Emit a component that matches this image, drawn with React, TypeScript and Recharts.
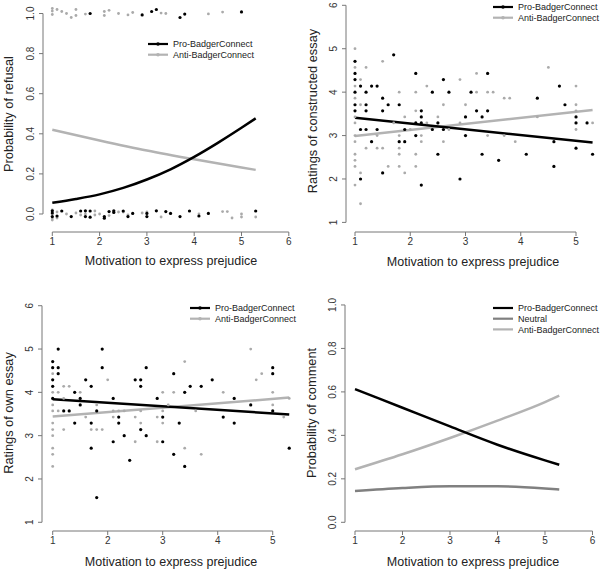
import {
  ComposedChart,
  XAxis,
  YAxis,
  Scatter,
  Line,
  ReferenceLine,
  Legend,
} from "recharts";

const FONT = '"Liberation Sans", Arial, Helvetica, sans-serif';
const AXIS = "#777777";
const PRO_COLOR = "#000000";
const ANTI_COLOR = "#b3b3b3";
const NEUTRAL_COLOR = "#808080";
const ANTI_DOT = "#aaaaaa";

const PRO = "Pro-BadgerConnect";
const ANTI = "Anti-BadgerConnect";
const NEUTRAL = "Neutral";

/*
  PANEL 1 - refusal (jittered 0/1 outcomes + fitted curves)
*/

const refusalTicksX = [1, 2, 3, 4, 5, 6];
const refusalTicksY = [0, 0.2, 0.4, 0.6, 0.8, 1.0];

const refusalPro = [
  [1.8, 1.0], [2.9, 0.993], [3.1, 1.01], [3.2, 1.02], [3.7, 0.98], [3.8, 0.997], [5.0, 1.008],
  [1.0, 0.016], [1.0, -0.013], [1.0, 0.005], [1.1, -0.01], [1.2, 0.015], [1.4, -0.013],
  [1.6, 0.015], [1.7, 0.016], [1.7, -0.013], [1.8, 0.015], [1.8, -0.016], [2.1, -0.013],
  [2.1, -0.021], [2.2, 0.012], [2.3, 0.016], [2.3, 0.008], [2.5, 0.015], [2.6, -0.013],
  [2.7, 0.003], [3.0, -0.013], [3.0, 0.003], [3.2, 0.016], [3.4, 0.012], [3.5, 0.003],
  [3.7, -0.013], [3.9, 0.015], [4.1, -0.01], [4.3, 0.003], [5.3, 0.015],
];

const refusalAnti = [
  [1.0, 1.025], [1.0, 1.012], [1.0, 0.995], [1.1, 1.02], [1.2, 1.01], [1.3, 1.0], [1.4, 0.98],
  [1.5, 1.02], [1.5, 0.99], [1.7, 0.997], [2.1, 1.01], [2.1, 0.99], [2.2, 1.016], [2.4, 1.0],
  [2.6, 0.993], [2.7, 1.005], [3.3, 1.002], [3.4, 1.0], [4.3, 0.998], [4.6, 1.007],
  [1.0, 0.02], [1.0, 0.0], [1.0, -0.02], [1.0, -0.03], [1.1, 0.01], [1.1, -0.02], [1.3, 0.0],
  [1.5, 0.005], [1.6, -0.005], [1.7, 0.0], [1.9, 0.015], [1.9, -0.005], [2.0, 0.0],
  [2.2, -0.008], [2.4, 0.01], [2.5, 0.01], [2.6, -0.005], [2.9, 0.005], [3.0, 0.01],
  [3.3, -0.015], [4.1, 0.0], [4.6, 0.012], [4.7, 0.012], [4.8, -0.02], [5.0, 0.0],
  [5.0, -0.015], [5.3, -0.015],
];

const refusalProFit = [
  [1, 0.056], [1.5, 0.075], [2, 0.098], [2.5, 0.13], [3, 0.172], [3.5, 0.223],
  [4, 0.285], [4.5, 0.355], [5, 0.43], [5.3, 0.477],
];
const refusalAntiFit = [
  [1, 0.42], [2, 0.367], [3, 0.317], [4, 0.273], [5, 0.232], [5.3, 0.22],
];

/*
  PANEL 2 - ratings of constructed essay
*/

const ratingTicksX = [1, 2, 3, 4, 5];
const ratingTicksY = [1, 2, 3, 4, 5, 6];

const constructedPro = [
  [1, 4.71], [1, 4.43], [1, 4.29], [1, 4.0], [1, 3.71], [1, 3.57],
  [1.1, 4.14], [1.1, 3.14], [1.1, 2.0],
  [1.2, 4.0], [1.2, 3.71], [1.2, 3.57], [1.2, 3.14],
  [1.3, 4.14], [1.3, 2.86], [1.4, 4.14], [1.4, 3.14],
  [1.5, 3.86], [1.5, 3.57], [1.5, 2.14], [1.6, 3.71], [1.7, 4.86],
  [1.8, 3.71], [1.8, 2.86], [1.9, 3.14], [1.9, 2.86],
  [2.1, 4.43], [2.1, 3.29], [2.1, 3.0],
  [2.2, 3.57], [2.2, 3.43], [2.2, 3.29], [2.2, 1.86],
  [2.4, 4.0], [2.4, 3.14], [2.5, 3.29], [2.5, 2.57], [2.6, 4.29], [2.6, 3.14],
  [2.7, 4.0], [2.9, 2.0], [3.0, 3.43], [3.0, 3.0], [3.1, 4.0], [3.2, 3.57],
  [3.3, 3.43], [3.3, 2.57], [3.4, 4.43], [3.4, 3.57], [3.6, 2.43],
  [4.1, 2.57], [4.3, 3.86], [4.6, 2.86], [4.6, 2.29], [4.7, 4.14], [4.8, 3.71],
  [5.0, 3.43], [5.0, 3.29], [5.0, 2.71], [5.2, 3.29], [5.3, 2.57],
];

const constructedAnti = [
  [1, 5.0], [1, 4.57], [1, 4.14], [1, 3.86], [1, 3.43], [1, 3.29], [1, 3.0],
  [1, 2.86], [1, 2.57], [1, 2.43], [1, 2.29], [1, 1.86],
  [1.1, 4.29], [1.1, 3.71], [1.1, 2.14], [1.1, 1.43],
  [1.2, 4.57], [1.2, 2.71], [1.4, 3.0], [1.4, 2.71], [1.5, 4.71], [1.5, 2.71],
  [1.6, 2.29], [1.7, 3.29],
  [1.8, 4.0], [1.8, 3.0], [1.8, 2.71], [1.8, 2.57], [1.8, 2.29],
  [1.9, 3.43], [1.9, 2.14], [2.0, 3.14],
  [2.1, 4.0], [2.1, 3.57], [2.1, 2.57], [2.1, 2.29],
  [2.2, 3.0], [2.2, 2.86], [2.3, 4.14], [2.3, 3.29], [2.5, 3.43],
  [2.6, 3.71], [2.6, 2.86], [2.7, 3.14], [2.9, 4.29], [2.9, 3.29], [3.0, 3.71],
  [3.2, 4.43], [3.2, 4.0], [3.4, 4.0], [3.4, 3.0], [3.5, 4.0],
  [3.7, 3.86], [3.7, 3.0], [3.8, 3.86], [3.9, 2.86], [4.3, 3.43], [4.5, 4.57],
  [5.0, 4.14], [5.0, 3.71], [5.0, 3.57], [5.0, 3.14], [5.3, 3.29],
];

const constructedProFit = [[1, 3.41], [5.3, 2.84]];
const constructedAntiFit = [[1, 2.99], [5.3, 3.59]];

/*
  PANEL 3 - ratings of own essay
*/

const ownPro = [
  [1, 4.71], [1, 4.57], [1, 4.29], [1, 4.14], [1, 3.86],
  [1.1, 5.0], [1.1, 4.57], [1.1, 4.43], [1.2, 3.57], [1.3, 3.57],
  [1.4, 4.0], [1.4, 3.29], [1.5, 3.86], [1.5, 3.71], [1.6, 4.29],
  [1.7, 4.14], [1.7, 3.29], [1.7, 2.71], [1.8, 3.57], [1.8, 1.57],
  [1.9, 5.0], [1.9, 4.57], [2.1, 3.86], [2.1, 2.86], [2.2, 3.43], [2.2, 3.29],
  [2.3, 3.0], [2.4, 2.43], [2.5, 4.29], [2.6, 4.29], [2.6, 4.14], [2.6, 3.14],
  [2.7, 4.57], [2.7, 3.0], [2.9, 3.86], [3.0, 3.43], [3.0, 2.86],
  [3.2, 4.43], [3.2, 2.57], [3.3, 3.29], [3.4, 4.0], [3.4, 2.29], [3.5, 4.14],
  [3.7, 4.14], [3.9, 4.29], [4.1, 3.43], [4.3, 3.86], [4.3, 3.29], [4.6, 3.71],
  [5.0, 4.57], [5.0, 4.43], [5.0, 3.57], [5.3, 2.71],
];

const ownAnti = [
  [1, 4.43], [1, 4.0], [1, 3.71], [1, 3.57], [1, 3.29], [1, 3.14], [1, 3.0],
  [1, 2.71], [1, 2.57], [1, 2.29], [1.1, 4.0], [1.1, 3.57],
  [1.2, 4.14], [1.2, 3.86], [1.2, 3.14], [1.3, 4.14], [1.5, 4.0], [1.6, 3.43],
  [1.7, 3.14], [1.8, 3.71], [1.8, 3.14], [1.9, 3.14], [2.0, 4.29],
  [2.1, 3.57], [2.1, 3.43], [2.2, 3.57], [2.3, 3.57], [2.5, 3.43], [2.5, 2.86],
  [2.6, 3.57], [2.6, 3.29], [2.9, 3.43], [2.9, 2.86], [3.0, 4.0], [3.0, 3.57],
  [3.0, 3.29], [3.1, 3.71], [3.2, 4.0], [3.4, 4.71], [3.4, 2.71], [3.6, 3.57],
  [3.7, 2.57], [4.1, 4.0], [4.6, 5.0], [4.7, 4.29], [4.8, 4.43],
  [5.0, 4.0], [5.0, 3.71], [5.2, 3.43], [5.3, 3.86],
];

const ownProFit = [[1, 3.84], [5.3, 3.49]];
const ownAntiFit = [[1, 3.44], [5.3, 3.88]];

/*
  PANEL 4 - probability of comment
*/

const commentTicksX = [1, 2, 3, 4, 5, 6];
const commentTicksY = [0, 0.2, 0.4, 0.6, 0.8, 1.0];

const commentProFit = [[1, 0.613], [2, 0.527], [3, 0.441], [4, 0.357], [5, 0.285], [5.3, 0.265]];
const commentNeutralFit = [[1, 0.144], [2, 0.158], [3, 0.166], [4, 0.166], [5, 0.156], [5.3, 0.151]];
const commentAntiFit = [[1, 0.244], [2, 0.313], [3, 0.388], [4, 0.468], [5, 0.553], [5.3, 0.583]];

type Pt = { x: number; y: number };
const toXY = (pts: number[][]): Pt[] => pts.map(([x, y]) => ({ x, y }));

interface Fit {
  name: string;
  color: string;
  data: number[][];
}

interface PanelProps {
  left: number;
  top: number;
  width: number;
  height: number;
  rightMargin: number;
  yAxisWidth: number;
  xAxisHeight: number;
  xDomain: [number, number];
  yDomain: [number, number];
  xTicks: number[];
  yTicks: number[];
  digits: number;
  proPoints?: number[][];
  antiPoints?: number[][];
  fits: Fit[];
  legendOrder: string[];
  legendLeft: number;
  legendTop: number;
  legendDots: boolean;
}

const RotTick = (props: any) => {
  const { x, y, payload, digits } = props;
  const cx = x - 6.5;
  return (
    <text
      x={cx}
      y={y}
      transform={`rotate(-90 ${cx} ${y})`}
      textAnchor="middle"
      dy="0.35em"
      fontSize={10}
      fill="#333"
      fontFamily={FONT}
    >
      {Number(payload.value).toFixed(digits)}
    </text>
  );
};

const LegendBox = ({ payload, order, dots }: any) => {
  const items = [...(payload || [])]
    .filter((it: any) => order.includes(it.value))
    .sort((a: any, b: any) => order.indexOf(a.value) - order.indexOf(b.value));

  return (
    <svg width={120} height={items.length * 10.7 + 2} style={{ display: "block", overflow: "visible" }}>
      {items.map((it: any, i: number) => {
        const yc = 5 + i * 10.7;
        return (
          <g key={it.value}>
            <line x1={0} x2={20} y1={yc} y2={yc} stroke={it.color} strokeWidth={2.2} />
            {dots && <circle cx={10} cy={yc} r={1.8} fill={it.color} />}
            <text x={25} y={yc} dy="0.35em" fontSize={9} fontFamily={FONT} fill="#222">
              {it.value}
            </text>
          </g>
        );
      })}
    </svg>
  );
};

const dotShape = (color: string, r: number) => (p: any) =>
  <circle cx={p.cx} cy={p.cy} r={r} fill={color} />;

const Panel = (p: PanelProps) => {
  const x0 = p.xTicks[0];
  const x1 = p.xTicks[p.xTicks.length - 1];
  const y0 = p.yTicks[0];
  const y1 = p.yTicks[p.yTicks.length - 1];

  return (
    <div style={{ position: "absolute", left: p.left, top: p.top }}>
      <ComposedChart
        width={p.width}
        height={p.height}
        margin={{ top: 3, right: p.rightMargin, bottom: 0, left: 0 }}
      >
        <XAxis
          type="number"
          dataKey="x"
          domain={p.xDomain}
          ticks={p.xTicks}
          interval={0}
          allowDataOverflow
          axisLine={false}
          tickLine={{ stroke: AXIS }}
          tickSize={4}
          tickMargin={2}
          height={p.xAxisHeight}
          tick={{ fontSize: 10, fill: "#333", fontFamily: FONT }}
        />
        <YAxis
          type="number"
          dataKey="y"
          domain={p.yDomain}
          ticks={p.yTicks}
          interval={0}
          allowDataOverflow
          axisLine={false}
          tickLine={{ stroke: AXIS }}
          tickSize={4}
          tickMargin={2}
          width={p.yAxisWidth}
          tick={<RotTick digits={p.digits} />}
        />

        {/* R-style axis lines, spanning first to last tick */}
        <ReferenceLine
          segment={[{ x: x0, y: p.yDomain[0] }, { x: x1, y: p.yDomain[0] }]}
          stroke={AXIS}
          ifOverflow="visible"
        />
        <ReferenceLine
          segment={[{ x: p.xDomain[0], y: y0 }, { x: p.xDomain[0], y: y1 }]}
          stroke={AXIS}
          ifOverflow="visible"
        />

        {p.antiPoints && (
          <Scatter
            data={toXY(p.antiPoints)}
            dataKey="y"
            legendType="none"
            isAnimationActive={false}
            shape={dotShape(ANTI_DOT, 1.4)}
          />
        )}
        {p.proPoints && (
          <Scatter
            data={toXY(p.proPoints)}
            dataKey="y"
            legendType="none"
            isAnimationActive={false}
            shape={dotShape(PRO_COLOR, 1.6)}
          />
        )}

        {p.fits.map((f) => (
          <Line
            key={f.name}
            name={f.name}
            data={toXY(f.data)}
            dataKey="y"
            type="monotone"
            stroke={f.color}
            strokeWidth={2.5}
            dot={false}
            activeDot={false}
            isAnimationActive={false}
          />
        ))}

        <Legend
          layout="vertical"
          align="center"
          verticalAlign="middle"
          wrapperStyle={{ left: p.legendLeft, top: p.legendTop, width: 120 }}
          content={(lp: any) => (
            <LegendBox payload={lp.payload} order={p.legendOrder} dots={p.legendDots} />
          )}
        />
      </ComposedChart>
    </div>
  );
};

const titleBase: React.CSSProperties = {
  position: "absolute",
  fontFamily: FONT,
  color: "#222",
  whiteSpace: "nowrap",
  lineHeight: 1,
};

const XTitle = ({ x, y, text }: { x: number; y: number; text: string }) => (
  <div style={{ ...titleBase, left: x, top: y, fontSize: 12.5, transform: "translate(-50%, -50%)" }}>
    {text}
  </div>
);

const YTitle = ({ x, y, text }: { x: number; y: number; text: string }) => (
  <div
    style={{
      ...titleBase,
      left: x,
      top: y,
      fontSize: 12.8,
      transform: "translate(-50%, -50%) rotate(-90deg)",
    }}
  >
    {text}
  </div>
);

const X_TITLE = "Motivation to express prejudice";

export default function App() {
  return (
    <div
      style={{
        position: "absolute",
        left: 0,
        top: 0,
        width: 600,
        height: 571,
        background: "#ffffff",
        overflow: "hidden",
      }}
    >
      {/* TOP LEFT */}
      <Panel
        left={0}
        top={0}
        width={300}
        height={285}
        rightMargin={5}
        yAxisWidth={43}
        xAxisHeight={53}
        xDomain={[0.8034, 6.131]}
        yDomain={[-0.0898, 1.0524]}
        xTicks={refusalTicksX}
        yTicks={refusalTicksY}
        digits={1}
        proPoints={refusalPro}
        antiPoints={refusalAnti}
        fits={[
          { name: ANTI, color: ANTI_COLOR, data: refusalAntiFit },
          { name: PRO, color: PRO_COLOR, data: refusalProFit },
        ]}
        legendOrder={[PRO, ANTI]}
        legendLeft={148}
        legendTop={39}
        legendDots
      />

      {/* TOP RIGHT */}
      <Panel
        left={300}
        top={0}
        width={300}
        height={285}
        rightMargin={2}
        yAxisWidth={46}
        xAxisHeight={53}
        xDomain={[0.837, 5.398]}
        yDomain={[0.779, 6.053]}
        xTicks={ratingTicksX}
        yTicks={ratingTicksY}
        digits={0}
        proPoints={constructedPro}
        antiPoints={constructedAnti}
        fits={[
          { name: ANTI, color: ANTI_COLOR, data: constructedAntiFit },
          { name: PRO, color: PRO_COLOR, data: constructedProFit },
        ]}
        legendOrder={[PRO, ANTI]}
        legendLeft={193}
        legendTop={2}
        legendDots
      />

      {/* BOTTOM LEFT */}
      <Panel
        left={0}
        top={285}
        width={300}
        height={286}
        rightMargin={5}
        yAxisWidth={42}
        xAxisHeight={40}
        xDomain={[0.8055, 5.405]}
        yDomain={[0.799, 6.409]}
        xTicks={ratingTicksX}
        yTicks={ratingTicksY}
        digits={0}
        proPoints={ownPro}
        antiPoints={ownAnti}
        fits={[
          { name: ANTI, color: ANTI_COLOR, data: ownAntiFit },
          { name: PRO, color: PRO_COLOR, data: ownProFit },
        ]}
        legendOrder={[PRO, ANTI]}
        legendLeft={190}
        legendTop={18}
        legendDots
      />

      {/* BOTTOM RIGHT */}
      <Panel
        left={300}
        top={285}
        width={300}
        height={286}
        rightMargin={2}
        yAxisWidth={45}
        xAxisHeight={40}
        xDomain={[0.7895, 6.116]}
        yDomain={[-0.04, 1.078]}
        xTicks={commentTicksX}
        yTicks={commentTicksY}
        digits={1}
        fits={[
          { name: ANTI, color: ANTI_COLOR, data: commentAntiFit },
          { name: NEUTRAL, color: NEUTRAL_COLOR, data: commentNeutralFit },
          { name: PRO, color: PRO_COLOR, data: commentProFit },
        ]}
        legendOrder={[PRO, NEUTRAL, ANTI]}
        legendLeft={193}
        legendTop={18}
        legendDots={false}
      />

      <XTitle x={171} y={261} text={X_TITLE} />
      <XTitle x={473} y={261.7} text={X_TITLE} />
      <XTitle x={171} y={561.7} text={X_TITLE} />
      <XTitle x={473} y={561.7} text={X_TITLE} />

      <YTitle x={9} y={114} text="Probability of refusal" />
      <YTitle x={312.5} y={111} text="Ratings of constructed essay" />
      <YTitle x={8.5} y={413} text="Ratings of own essay" />
      <YTitle x={312} y={413} text="Probability of comment" />
    </div>
  );
}
